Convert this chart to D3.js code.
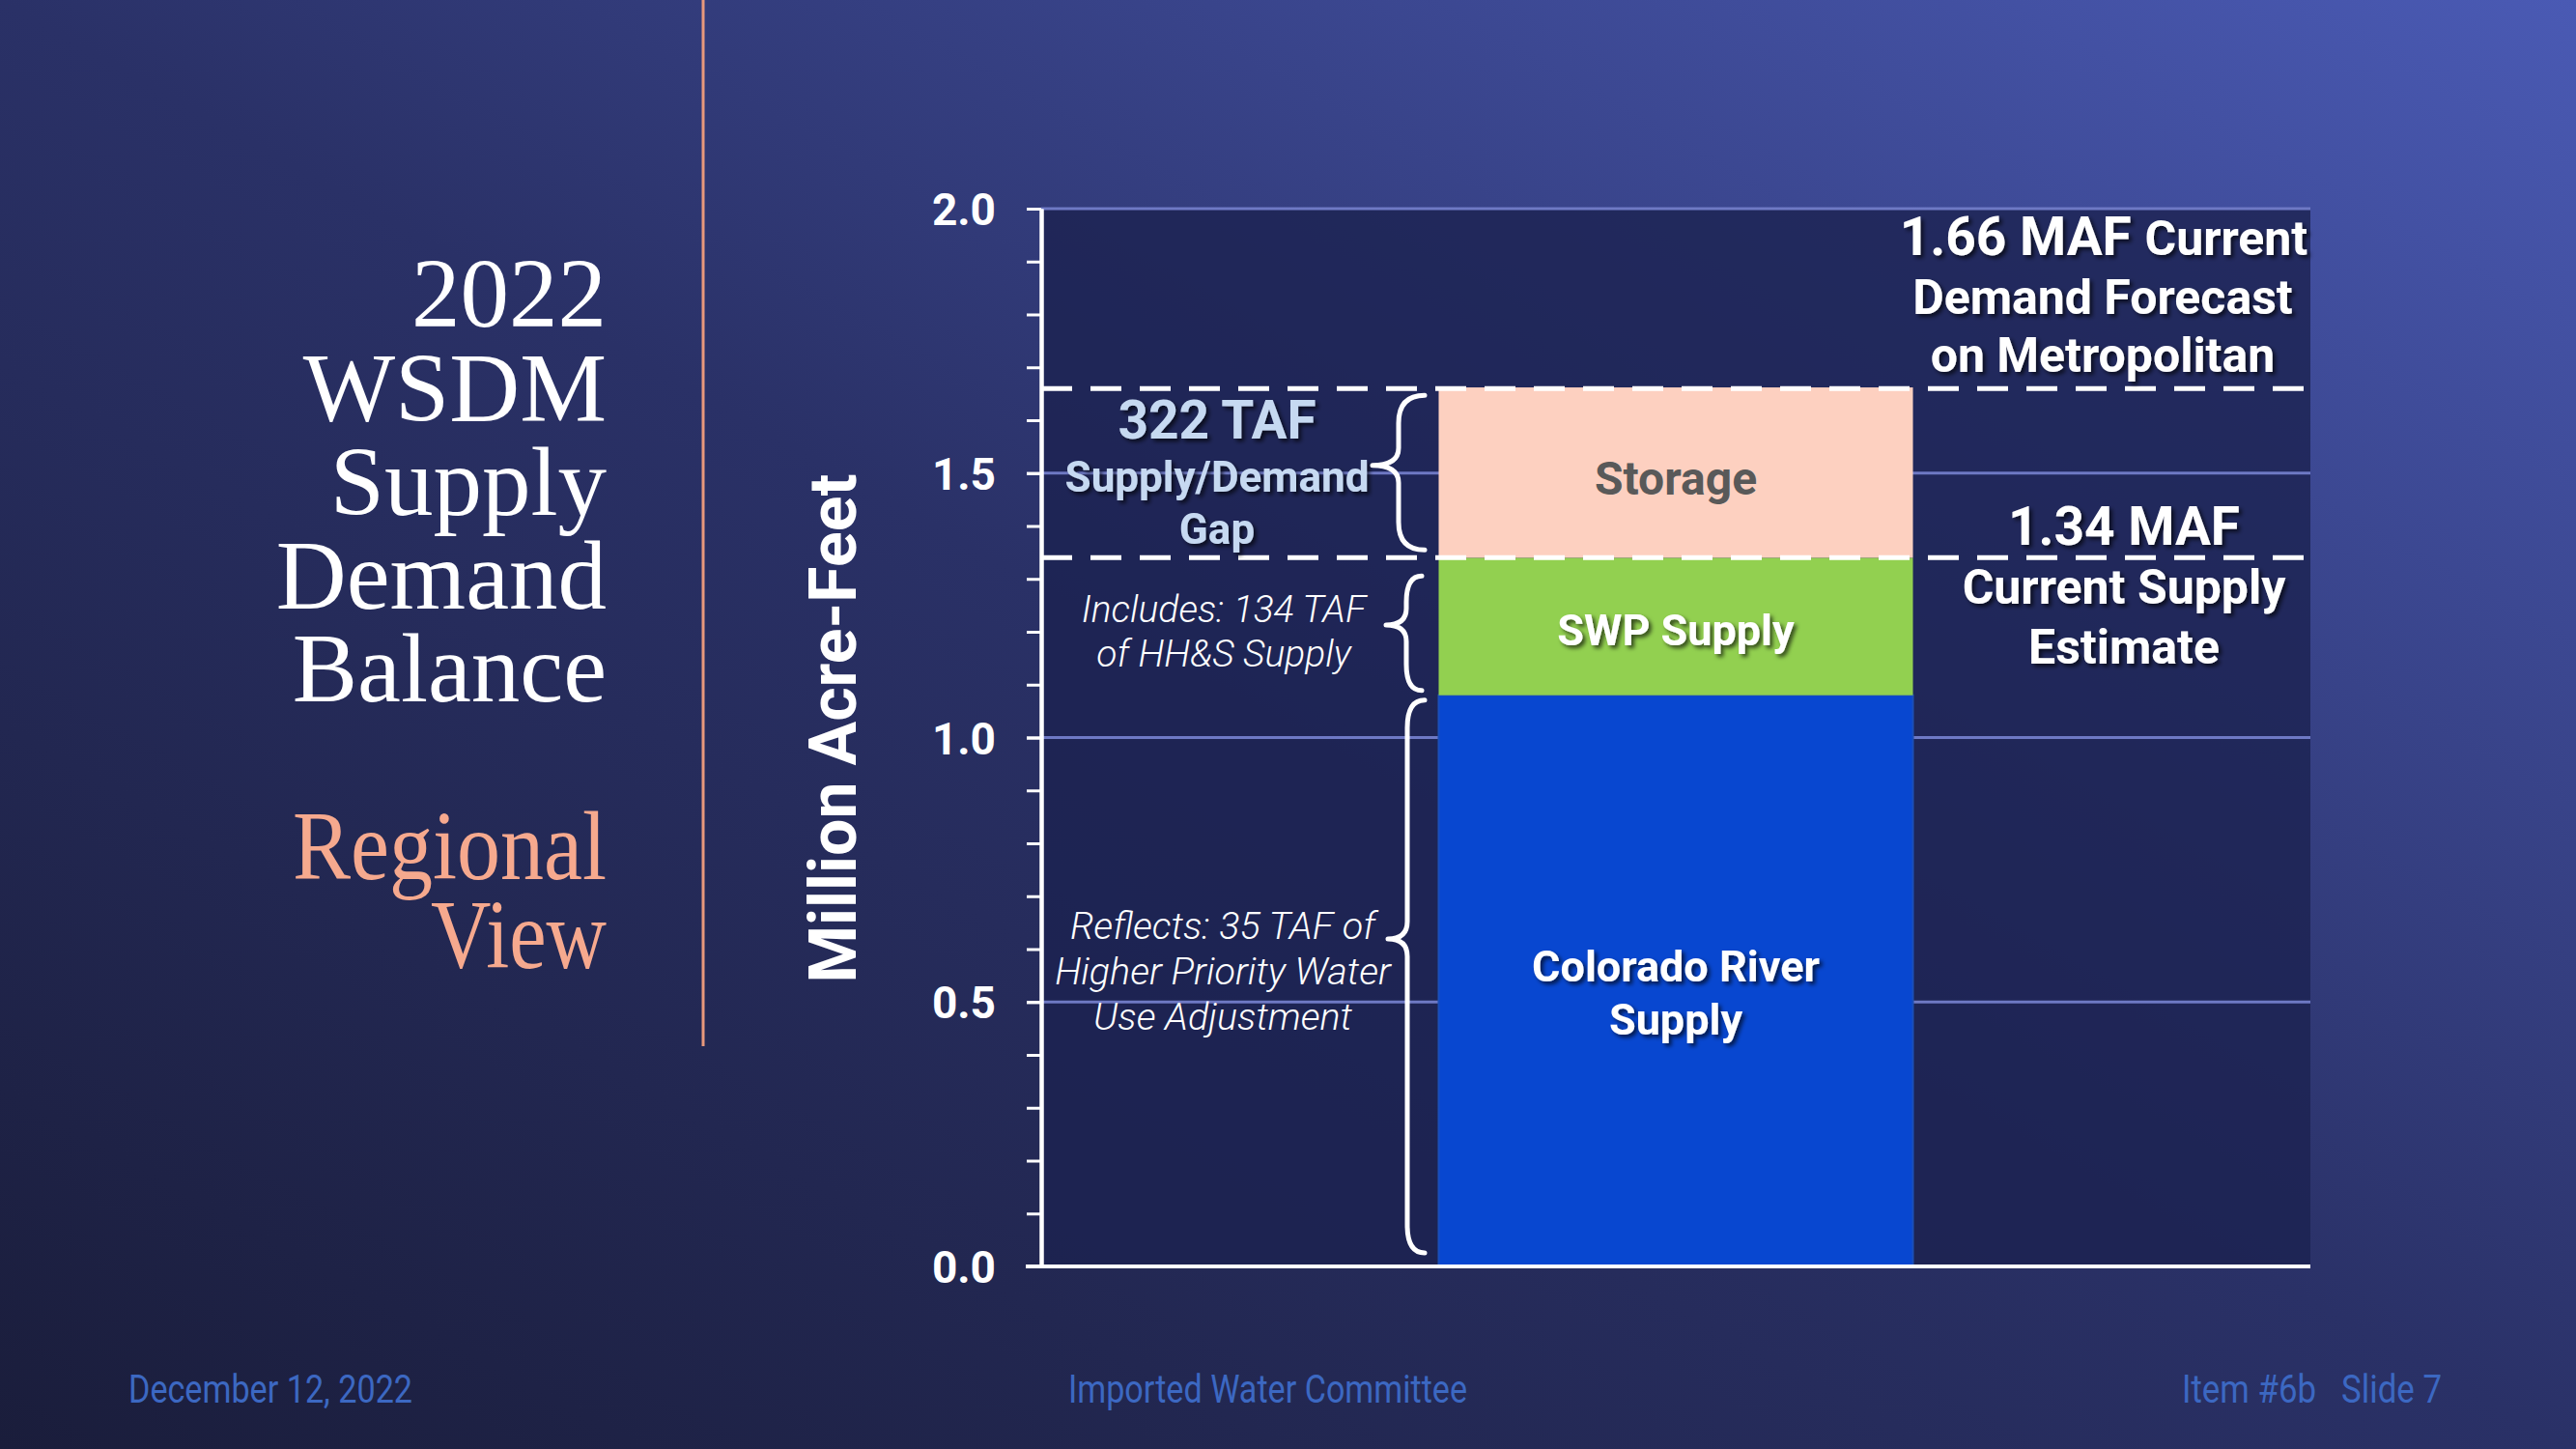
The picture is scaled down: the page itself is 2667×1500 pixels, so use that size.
<!DOCTYPE html>
<html><head><meta charset="utf-8">
<script src="https://cdn.jsdelivr.net/npm/d3@7"></script>
<style>html,body{margin:0;padding:0;background:#232a5a;overflow:hidden}svg{display:block}</style>
</head><body>
<script>
// ---- data ----
const categories = ["Metropolitan"];
const segmentNames = ["Colorado River Supply", "SWP Supply", "Storage"];
const segmentValues = [1.08, 0.26, 0.322];
const segmentColors = ["#0847d0", "#92d050", "#fdd0c0"];
const demandLevel = 1.66;
const supplyLevel = 1.34;
const majorTicks = [0, 0.5, 1.0, 1.5, 2.0];
const majorTickLabels = ["0.0", "0.5", "1.0", "1.5", "2.0"];
const minorTicks = [0, 0.1, 0.2, 0.3, 0.4, 0.5, 0.6, 0.7, 0.8, 0.9, 1.0, 1.1, 1.2, 1.3, 1.4, 1.5, 1.6, 1.7, 1.8, 1.9, 2.0];
const yAxisTitle = "Million Acre-Feet";
const titleLines = ["2022", "WSDM", "Supply", "Demand", "Balance"];
const subtitleLines = ["Regional", "View"];
const demandNote = ["Demand Forecast", "on Metropolitan"];
const demandHead = ["1.66 MAF", "Current"];
const supplyNote = ["1.34 MAF", "Current Supply", "Estimate"];
const gapNote = ["322 TAF", "Supply/Demand", "Gap"];
const swpNote = ["Includes: 134 TAF", "of HH&S Supply"];
const coloradoNote = ["Reflects: 35 TAF of", "Higher Priority Water", "Use Adjustment"];
const footer = ["December 12, 2022", "Imported Water Committee", "Item #6b   Slide 7"];

(function () {
const W = 2667, H = 1500;
const svg = d3.select("body").append("svg").attr("width", W).attr("height", H);
const defs = svg.append("defs");
const g = defs.append("linearGradient").attr("id", "bg").attr("x1", 0).attr("y1", 1).attr("x2", 1).attr("y2", 0);
g.append("stop").attr("offset", 0).attr("stop-color", "#1a1d3b");
g.append("stop").attr("offset", 0.5).attr("stop-color", "#2a3167");
g.append("stop").attr("offset", 1).attr("stop-color", "#4a5ab4");
const f = defs.append("filter").attr("id", "sh").attr("x", "-10%").attr("y", "-30%").attr("width", "130%").attr("height", "160%");
f.append("feDropShadow").attr("dx", 3).attr("dy", 3).attr("stdDeviation", 2).attr("flood-color", "#000").attr("flood-opacity", 0.65);

svg.append("rect").attr("width", W).attr("height", H).attr("fill", "url(#bg)");

const pL = 1078, pR = 2392, pT = 216, pB = 1311;
const y = d3.scaleLinear().domain([0, 2]).range([pB, pT]);
const x = d3.scaleBand().domain(categories).range([pL, pR]).paddingInner(0).paddingOuter(0.838);

svg.append("rect").attr("x", pL).attr("y", pT).attr("width", pR - pL).attr("height", pB - pT)
  .attr("fill", "#1c2250").attr("opacity", 0.8);

svg.append("g").selectAll("line").data(majorTicks.filter(d => d > 0)).join("line")
  .attr("x1", pL).attr("x2", pR).attr("y1", d => y(d)).attr("y2", d => y(d))
  .attr("stroke", "#6e79c4").attr("stroke-width", 3);

const row = {cat: categories[0]};
segmentNames.forEach((n, i) => row[n] = segmentValues[i]);
const stacked = d3.stack().keys(segmentNames)([row]);
svg.append("g").selectAll("rect").data(stacked).join("rect")
  .attr("x", x(categories[0])).attr("width", x.bandwidth())
  .attr("y", s => y(s[0][1])).attr("height", s => y(s[0][0]) - y(s[0][1]))
  .attr("fill", (s, i) => segmentColors[i])
  .attr("stroke", (s, i) => i === 0 ? "#1b4fb8" : "none").attr("stroke-width", 2);

svg.append("g").selectAll("line").data([demandLevel, supplyLevel]).join("line")
  .attr("x1", pL).attr("x2", pR + 4).attr("y1", d => y(d)).attr("y2", d => y(d))
  .attr("stroke", "#fff").attr("stroke-width", 5).attr("stroke-dasharray", "32,19");

const minorAxis = svg.append("g").attr("transform", `translate(${pL},0)`)
  .call(d3.axisLeft(y).tickValues(minorTicks).tickSize(15).tickSizeOuter(0).tickFormat(""));
const majorAxis = svg.append("g").attr("transform", `translate(${pL},0)`)
  .call(d3.axisLeft(y).tickValues(majorTicks).tickSize(15).tickSizeOuter(0).tickPadding(32)
    .tickFormat((d, i) => majorTickLabels[i]));
[minorAxis, majorAxis].forEach(a => {
  a.select(".domain").attr("stroke", "#fff").attr("stroke-width", 4);
  a.selectAll(".tick line").attr("stroke", "#fff").attr("stroke-width", 3);
});
majorAxis.selectAll(".tick text").attr("fill", "#fff").attr("font-family", "Roboto").attr("font-weight", 700)
  .attr("font-size", 46).attr("dy", "0.36em");
svg.append("line").attr("x1", pL - 16).attr("x2", pR).attr("y1", y(0)).attr("y2", y(0))
  .attr("stroke", "#fff").attr("stroke-width", 4);

svg.append("text").attr("transform", "translate(886,754) rotate(-90)").attr("text-anchor", "middle")
  .attr("font-family", "Roboto").attr("font-weight", 700).attr("font-size", 68).attr("fill", "#fff").text(yAxisTitle);

function lines(arr, cx, baselines, sizes, opts) {
  const t = svg.append("g");
  arr.forEach((s, i) => {
    const e = t.append("text").attr("x", cx).attr("y", baselines[i]).attr("text-anchor", opts.anchor || "middle")
      .attr("font-family", opts.family || "Roboto").attr("font-weight", opts.weight || 700)
      .attr("font-style", opts.style || "normal")
      .attr("font-size", sizes[i]).attr("fill", opts.fill || "#fff").text(s);
    if (opts.lengths && opts.lengths[i]) e.attr("textLength", opts.lengths[i]).attr("lengthAdjust", "spacingAndGlyphs");
    if (opts.shadow) e.attr("filter", "url(#sh)");
  });
  return t;
}

lines(titleLines, 628, [338, 436, 533, 630, 726], [101, 101, 101, 101, 101], {anchor: "end", family: "Liberation Serif", weight: 400, fill: "#ffffff"});
lines(subtitleLines, 628, [910, 1002], [101, 101], {anchor: "end", family: "Liberation Serif", weight: 400, fill: "#f6a98e", lengths: [325, 182]});
svg.append("line").attr("x1", 728).attr("x2", 728).attr("y1", 0).attr("y2", 1083).attr("stroke", "#e8987c").attr("stroke-width", 3);

// demand note (first line has a larger "1.66 MAF")
const head = svg.append("text").attr("x", 2178).attr("y", 264).attr("text-anchor", "middle")
  .attr("font-family", "Roboto").attr("font-weight", 700).attr("fill", "#fff").attr("filter", "url(#sh)");
head.append("tspan").attr("font-size", 55).text(demandHead[0] + " ");
head.append("tspan").attr("font-size", 50).text(demandHead[1]);
lines(demandNote, 2177, [325, 385], [50, 50], {shadow: true});
lines(supplyNote, 2199, [564, 625, 687], [55, 50, 50], {shadow: true});

lines(gapNote, 1260, [454, 509, 563], [55, 44, 44], {fill: "#c6d9f1", shadow: true});
lines(swpNote, 1267, [644, 690], [39, 39], {weight: 300, style: "italic"});
lines(coloradoNote, 1266, [972, 1019, 1066], [39.5, 39.5, 39.5], {weight: 300, style: "italic"});

const bx = x(categories[0]) + x.bandwidth() / 2;
lines(["Storage"], bx, [512], [48], {fill: "#595959"});
lines(["SWP Supply"], bx, [668], [45], {shadow: true});
lines(["Colorado River", "Supply"], bx, [1016, 1071], [45, 45], {shadow: true});

function brace(vx, y0, y1, tipY, tipX, endX) {
  const r = Math.min(18, (tipY - y0) / 3, (y1 - tipY) / 3);
  const p = `M${endX},${y0} Q${vx},${y0} ${vx},${y0 + r * 1.6} L${vx},${tipY - r} Q${vx},${tipY} ${tipX},${tipY}` +
            ` Q${vx},${tipY} ${vx},${tipY + r} L${vx},${y1 - r * 1.6} Q${vx},${y1} ${endX},${y1}`;
  svg.append("path").attr("d", p).attr("fill", "none").attr("stroke", "#fff").attr("stroke-width", 5)
    .attr("stroke-linecap", "round").attr("stroke-linejoin", "round");
}
brace(1448, y(demandLevel) + 7, y(supplyLevel) - 8, (y(demandLevel) + y(supplyLevel)) / 2 - 8, 1421, 1475);
brace(1456, y(supplyLevel) + 19, y(segmentValues[0]) - 5, 647, 1435, 1472);
brace(1457, y(segmentValues[0]) + 5, y(0) - 14, 972, 1437, 1475);

const ft = [{x: 133, w: 294}, {x: 1106, w: 413}, {x: 2259, w: 269}];
footer.forEach((s, i) => {
  svg.append("text").attr("x", ft[i].x).attr("y", 1452).attr("font-family", "Roboto").attr("font-size", 41)
    .attr("fill", "#3c68c2").attr("textLength", ft[i].w).attr("lengthAdjust", "spacingAndGlyphs")
    .style("white-space", "pre").text(s);
});
})();
</script>
</body></html>
